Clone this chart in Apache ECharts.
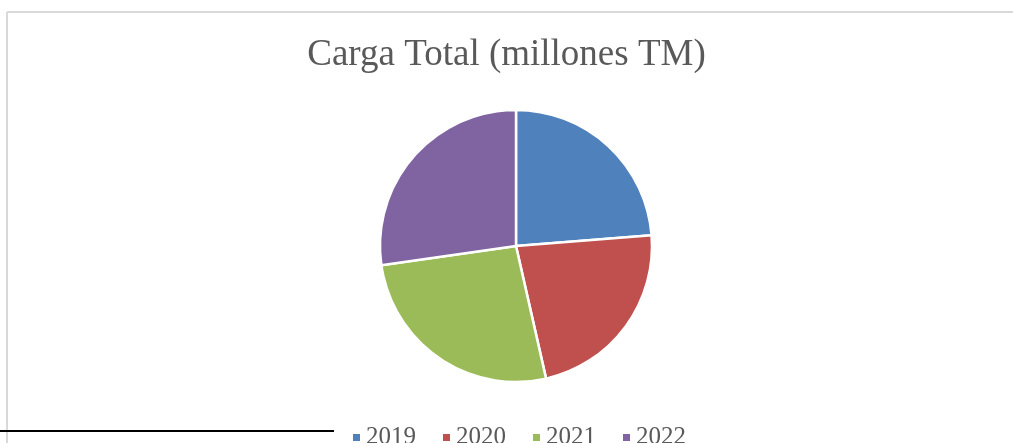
<!DOCTYPE html>
<html>
<head>
<meta charset="utf-8">
<script src="https://cdn.jsdelivr.net/npm/echarts@6/dist/echarts.min.js"></script>
<style>
html, body { margin: 0; padding: 0; background: #fff; }
#chart { width: 1013px; height: 443px; }
</style>
</head>
<body>
<div id="chart"></div>
<script>
// datos (proporciones de cada año)
var years = ['2019', '2020', '2021', '2022'];
var carga = [23.75, 22.7, 26.3, 27.25];
var colores = ['#4F81BD', '#C0504D', '#9BBB59', '#8064A2'];

var fuente = 'Liberation Serif';

var datos = [];
for (var i = 0; i < years.length; i++) {
	datos.push({ name: years[i], value: carga[i] });
}

var option = {
	color: colores,
	animation: false,
	title: {
		text: 'Carga Total (millones TM)',
		left: 'center',
		top: 32,
		textStyle: {
			color: '#595959',
			fontFamily: fuente,
			fontSize: 37,
			fontWeight: 'normal'
		}
	},
	legend: {
		data: years,
		left: 346,
		top: 420,
		icon: 'rect',
		itemWidth: 9,
		itemHeight: 9,
		itemGap: 25,
		textStyle: {
			color: '#595959',
			fontFamily: fuente,
			fontSize: 25
		}
	},
	graphic: [
		// marco gris del grafico
		{ type: 'line', shape: { x1: 7, y1: 12, x2: 1013, y2: 12 }, style: { stroke: '#d9d9d9', lineWidth: 2 } },
		{ type: 'line', shape: { x1: 7, y1: 12, x2: 7, y2: 443 }, style: { stroke: '#d9d9d9', lineWidth: 2 } },
		// linea negra abajo a la izquierda
		{ type: 'line', shape: { x1: 0, y1: 431, x2: 334, y2: 431 }, style: { stroke: '#000', lineWidth: 2 } }
	],
	series: [{
		type: 'pie',
		center: [516, 246],
		radius: [0, 136],
		startAngle: 90,
		clockwise: true,
		label: { show: false },
		labelLine: { show: false },
		itemStyle: {
			borderColor: '#fff',
			borderWidth: 2.5
		},
		emphasis: { disabled: true },
		data: datos
	}]
};

var chart = echarts.init(document.getElementById('chart'));
chart.setOption(option);
</script>
</body>
</html>
